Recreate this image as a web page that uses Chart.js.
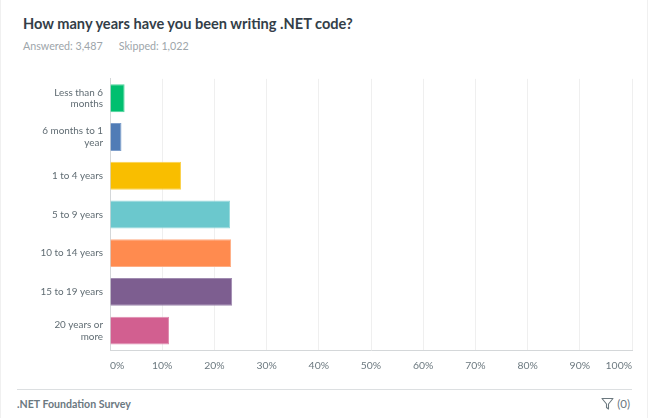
<!DOCTYPE html>
<html>
<head>
<meta charset="utf-8">
<script src="https://cdn.jsdelivr.net/npm/chart.js@4.4.1/dist/chart.umd.min.js"></script>
<style>
  html, body { margin: 0; padding: 0; background: #fff; }
  body { width: 648px; height: 418px; position: relative; overflow: hidden; font-family: Lato, "Open Sans", sans-serif; }
  .card { position: absolute; left: 0; top: 0; width: 646px; height: 418px; border-left: 1px solid #f0f0f0; border-right: 1px solid #f0f0f0; }
  #title { position: absolute; left: 23px; top: 15px; font-size: 14.6px; font-weight: 700; color: #333e48; white-space: nowrap; }
  #sub { position: absolute; left: 23px; top: 39px; font-size: 10.7px; color: #9da5aa; white-space: nowrap; }
  #sub span + span { margin-left: 16px; }
  #wrap { position: absolute; left: 0; top: 60px; width: 648px; height: 315px; }
  #rule { position: absolute; left: 17px; top: 389px; width: 615px; height: 1px; background: #dcdfe1; }
  #foot { position: absolute; left: 17px; top: 398px; font-size: 10.6px; font-weight: 700; color: #6b787f; }
  #filter { position: absolute; right: 18px; top: 397px; font-size: 11.5px; color: #6b787f; display: flex; align-items: center; gap: 3px; }
</style>
</head>
<body>
<div class="card"></div>
<div id="title">How many years have you been writing .NET code?</div>
<div id="sub"><span>Answered: 3,487</span><span>Skipped: 1,022</span></div>
<div id="wrap"><canvas id="chart"></canvas></div>
<div id="rule"></div>
<div id="foot">.NET Foundation Survey</div>
<div id="filter">
  <svg width="13" height="13" viewBox="0 0 13 13"><path d="M1 1.5 H12 L7.5 7 V12 L5.5 10.5 V7 Z" fill="none" stroke="#6b787f" stroke-width="1.1" stroke-linejoin="round"/></svg>
  <span>(0)</span>
</div>
<script>
// Respuestas (porcentaje de encuestados)
const categories = [
  ['Less than 6', 'months'],
  ['6 months to 1', 'year'],
  '1 to 4 years',
  '5 to 9 years',
  '10 to 14 years',
  '15 to 19 years',
  ['20 years or', 'more']
];
const percents = [2.8, 2.2, 13.6, 23.0, 23.2, 23.4, 11.3];
const xTicks = [0, 10, 20, 30, 40, 50, 60, 70, 80, 90, 100];

const barColors = ['#00bf6f', '#507cb6', '#f9be00', '#6bc8cd', '#ff8b4f', '#7d5e90', '#d25f90'];
const barBorders = ['#4dd39a', '#7f9fcb', '#fbd24d', '#97d9dc', '#ffad83', '#a08bb0', '#df8cb0'];

const ctx = document.getElementById('chart').getContext('2d');
new Chart(ctx, {
  type: 'bar',
  data: {
    labels: categories,
    datasets: [{
      data: percents,
      backgroundColor: barColors,
      borderColor: barBorders,
      borderWidth: 1,
      barPercentage: 0.72,
      categoryPercentage: 1
    }]
  },
  options: {
    indexAxis: 'y',
    responsive: true,
    maintainAspectRatio: false,
    animation: false,
    layout: { padding: { top: 12, right: 16, left: 0, bottom: 0 } },
    scales: {
      x: {
        min: 0,
        max: 100,
        afterBuildTicks: axis => { axis.ticks = xTicks.map(v => ({ value: v })); },
        afterFit: axis => { axis.height = 25; },
        grid: { color: '#efefef', drawTicks: false },
        border: { color: '#d4d7d9' },
        ticks: {
          align: 'inner',
          padding: 9,
          color: '#6b787f',
          font: { family: 'Lato', size: 10.4 },
          callback: v => v + '%'
        }
      },
      y: {
        afterFit: axis => { axis.width = 110; },
        grid: { display: false, drawTicks: false },
        border: { color: '#d4d7d9' },
        ticks: {
          padding: 7,
          color: '#5f6b72',
          font: { family: 'Lato', size: 9.9, lineHeight: 1.2 }
        }
      }
    },
    plugins: {
      legend: { display: false },
      tooltip: { enabled: false }
    }
  }
});
</script>
</body>
</html>
